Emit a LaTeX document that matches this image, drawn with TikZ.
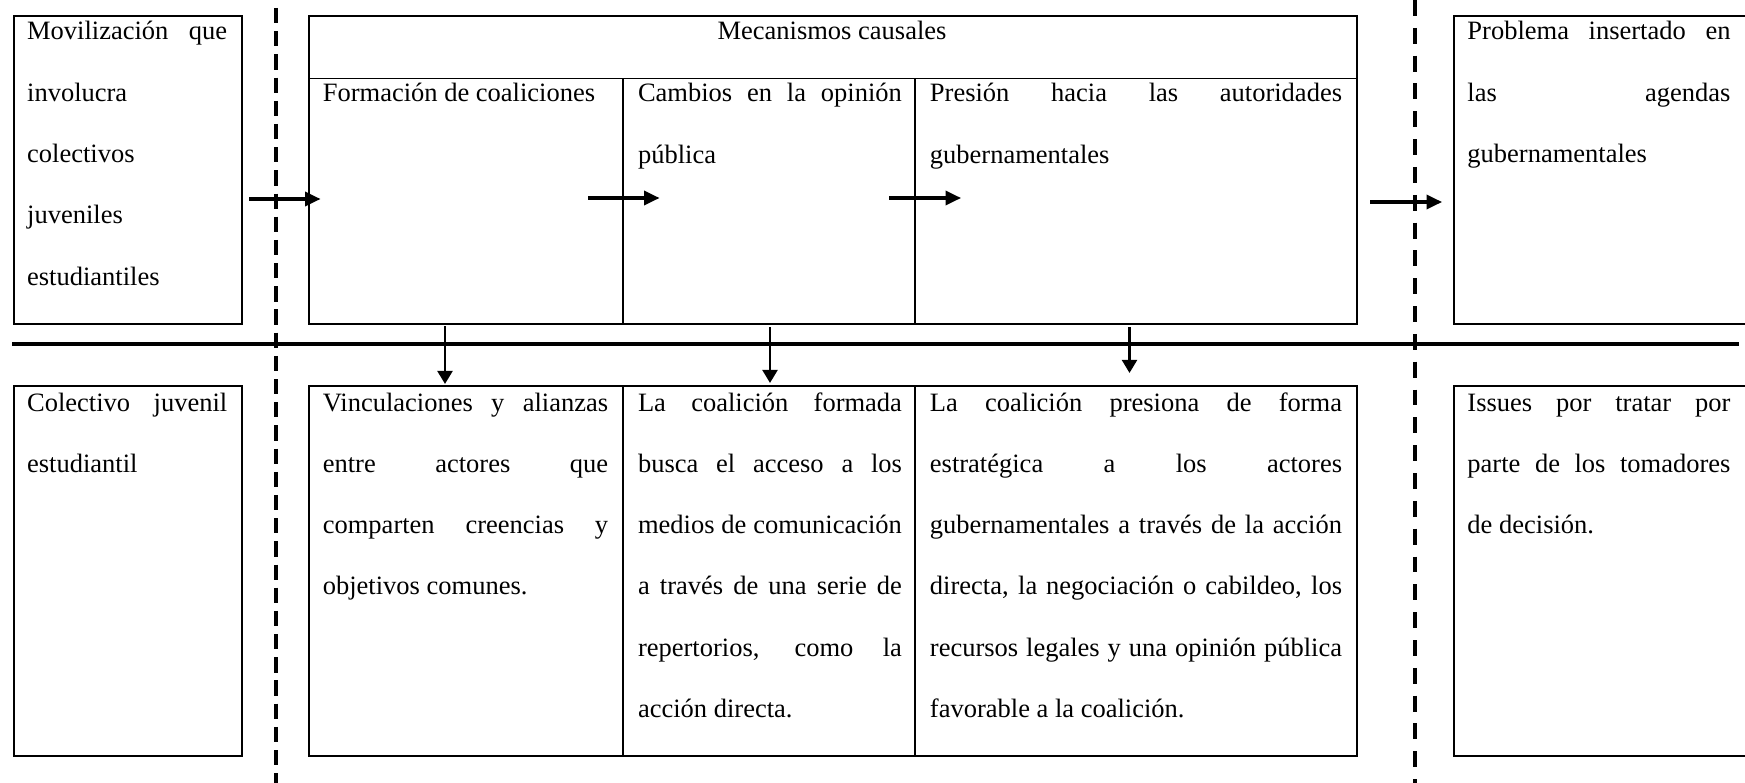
\documentclass[tikz,border=0pt]{standalone}
\usepackage{fontspec}
\setmainfont{Liberation Serif}
\usepackage{tikz}
\usetikzlibrary{positioning, arrows.meta, calc}

\hyphenpenalty=10000
\exhyphenpenalty=10000
\tolerance=10000

\begin{document}
\begin{tikzpicture}[
    x=0.4528pt, y=-0.4528pt,
    box/.style={rectangle, draw, line width=0.9pt, anchor=north west, inner sep=0pt},
    wh/.style 2 args={minimum width=#1*0.4528pt, minimum height=#2*0.4528pt},
    txt/.style={anchor=base west, inner sep=0pt, align=justify, font=\fontsize{12}{27.76}\selectfont},
    head/.style={anchor=base, inner sep=0pt, font=\fontsize{12}{27.76}\selectfont},
    arr/.style={-{Triangle[length=7pt, width=6.4pt]}, line width=1.4pt},
    down/.style={-{Triangle[length=6pt, width=6.8pt]}, line width=1.3pt},
    divider/.style={line width=0.7pt}
]
\useasboundingbox (0,0) rectangle (1745,783);
\clip (0,0) rectangle (1745,783);

% --- Cajas superiores ---
\node[box, wh={228}{308}] (mov) at (13,15) {};
\node[box, wh={1048}{308}] (mec) at (308,15) {};
\node[box, wh={320}{308}] (prob) at (1452.5,15) {};
\draw[divider] (308,78.3) -- (1356,78.3);
\draw[divider] (623,78.3) -- (623,323);
\draw[divider] (915,78.3) -- (915,323);

% --- Cajas inferiores ---
\node[box, wh={228}{370}] (col) at (13,385) {};
\node[box, wh={1048}{370}] (vin) at (308,385) {};
\node[box, wh={320}{370}] (iss) at (1452.5,385) {};
\draw[divider] (623,385) -- (623,755);
\draw[divider] (915,385) -- (915,755);

% --- Textos fila superior ---
\node[txt, text width=90.6pt] (movt) at (26.7,40) {Movilización que\linebreak involucra\linebreak colectivos\linebreak juveniles\linebreak estudiantiles};
\node[head] (mect) at (832,40) {Mecanismos causales};
\node[txt, text width=129.2pt] (form) at (322.4,101.7) {Formación de coaliciones};
\node[txt, text width=119.5pt] (camb) at (637.6,101.7) {Cambios en la opinión\linebreak pública};
\node[txt, text width=186.6pt] (pres) at (929.5,101.7) {Presión hacia las autoridades\linebreak gubernamentales};
\node[txt, text width=119.1pt] (probt) at (1467,40) {Problema insertado en\linebreak las agendas\linebreak gubernamentales};

% --- Textos fila inferior ---
\node[txt, text width=90.6pt] (colt) at (26.7,411) {Colectivo juvenil\linebreak estudiantil};
\node[txt, text width=129.2pt] (vint) at (322.4,411) {Vinculaciones y alianzas\linebreak entre actores que\linebreak comparten creencias y\linebreak objetivos comunes.};
\node[txt, text width=119.5pt] (busc) at (637.6,411) {La coalición formada\linebreak busca el acceso a los\linebreak medios de comunicación\linebreak a través de una serie de\linebreak repertorios, como la\linebreak acción directa.};
\node[txt, text width=186.6pt] (estr) at (929.5,411) {La coalición presiona de forma\linebreak estratégica a los actores\linebreak gubernamentales a través de la acción\linebreak directa, la negociación o cabildeo, los\linebreak recursos legales y una opinión pública\linebreak favorable a la coalición.};
\node[txt, text width=119.1pt] (isst) at (1467,411) {Issues por tratar por\linebreak parte de los tomadores\linebreak de decisión.};

% --- Lineas divisorias ---
\draw[line width=1.6pt] (12,344) -- (1739,344);
\draw[line width=1.8pt, dash pattern=on 6.9pt off 3.6pt] (276,8) -- (276,783);
\draw[line width=1.5pt, dash pattern=on 7.2pt off 5.4pt] (1415,0) -- (1415,783);

% --- Flechas ---
\coordinate (a1) at (249,199);   \coordinate (b1) at (320.5,199);
\coordinate (a2) at (588,198);   \coordinate (b2) at (659.5,198);
\coordinate (a3) at (889,198);   \coordinate (b3) at (961,198);
\coordinate (a4) at (1370,202);  \coordinate (b4) at (1442,202);
\draw[arr] (a1) -- (b1);
\draw[arr] (a2) -- (b2);
\draw[arr] (a3) -- (b3);
\draw[arr] (a4) -- (b4);

\coordinate (d1) at (445,326);   \coordinate (e1) at (445,384);
\coordinate (d2) at (770,327);   \coordinate (e2) at (770,383);
\coordinate (d3) at (1129.5,327); \coordinate (e3) at (1129.5,373);
\draw[down] (d1) -- (e1);
\draw[down] (d2) -- (e2);
\draw[down] (d3) -- (e3);

\end{tikzpicture}
\end{document}
